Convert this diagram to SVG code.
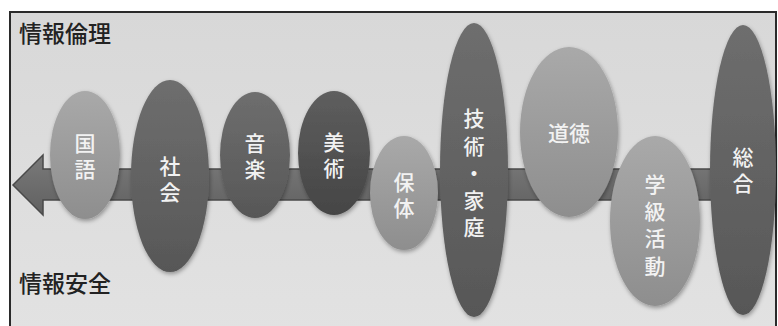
<svg xmlns="http://www.w3.org/2000/svg" width="778" height="326" viewBox="0 0 778 326">
<defs>
<linearGradient id="bg" x1="0" y1="0" x2="0" y2="1"><stop offset="0" stop-color="#d8d8d8"/><stop offset="1" stop-color="#e2e2e2"/></linearGradient>
<linearGradient id="gLight" x1="0" y1="0" x2="0" y2="1"><stop offset="0" stop-color="#a9a9a9"/><stop offset="1" stop-color="#8e8e8e"/></linearGradient>
<linearGradient id="gMid" x1="0" y1="0" x2="0" y2="1"><stop offset="0" stop-color="#6e6e6e"/><stop offset="1" stop-color="#575757"/></linearGradient>
<linearGradient id="gDark" x1="0" y1="0" x2="0" y2="1"><stop offset="0" stop-color="#5e5e5e"/><stop offset="1" stop-color="#454545"/></linearGradient>
<linearGradient id="gArrow" x1="0" y1="0" x2="0" y2="1"><stop offset="0" stop-color="#7a7a7a"/><stop offset="1" stop-color="#606060"/></linearGradient>
<filter id="sh" x="-20%" y="-20%" width="140%" height="140%"><feDropShadow dx="1" dy="2" stdDeviation="2" flood-color="#000" flood-opacity="0.35"/></filter>
</defs>
<style>
.lbl{font-family:"Noto Sans CJK JP","Noto Sans CJK SC",sans-serif;font-size:23px;font-weight:500;fill:#222}
.t{font-family:"Noto Sans CJK JP","Noto Sans CJK SC",sans-serif;font-size:21px;font-weight:500;fill:#f2f2f2;text-anchor:middle}
.v{writing-mode:vertical-rl;letter-spacing:5.5px}
.v5{letter-spacing:6.2px}
.h{dominant-baseline:central}
.e{filter:url(#sh)}
</style>
<rect x="10" y="12" width="766" height="320" fill="url(#bg)" stroke="#2a2a2a" stroke-width="2"/>
<text class="lbl" x="19" y="42">情報倫理</text>
<text class="lbl" x="19" y="292">情報安全</text>
<g id="connectors">
<polygon points="13,185 43,155 43,169 762,169 762,200 43,200 43,215" fill="url(#gArrow)" stroke="#4a4a4a" stroke-width="1.5"/>
</g>
<g id="n-kokugo"><ellipse class="e" cx="85" cy="155" rx="35" ry="64" fill="url(#gLight)"/><text class="t v" x="85" y="159">国語</text></g>
<g id="n-shakai"><ellipse class="e" cx="170" cy="176" rx="39" ry="96" fill="url(#gMid)"/><text class="t v" x="170" y="182">社会</text></g>
<g id="n-ongaku"><ellipse class="e" cx="255" cy="155" rx="35" ry="63" fill="url(#gMid)"/><text class="t v" x="255" y="159">音楽</text></g>
<g id="n-bijutsu"><ellipse class="e" cx="334" cy="153" rx="36" ry="62" fill="url(#gDark)"/><text class="t v" x="334" y="158">美術</text></g>
<g id="n-hotai"><ellipse class="e" cx="404" cy="193" rx="34" ry="57" fill="url(#gLight)"/><text class="t v" x="404" y="198">保体</text></g>
<g id="n-gika"><ellipse class="e" cx="474" cy="170" rx="34" ry="147" fill="url(#gMid)"/><text class="t v v5" x="474" y="176">技術・家庭</text></g>
<g id="n-dotoku"><ellipse class="e" cx="569" cy="132" rx="49" ry="85" fill="url(#gLight)"/><text class="t h" x="569" y="132">道徳</text></g>
<g id="n-gakkyu"><ellipse class="e" cx="655" cy="221" rx="45" ry="85" fill="url(#gLight)"/><text class="t v v5" x="655" y="228">学級活動</text></g>
<g id="n-sogo"><ellipse class="e" cx="743" cy="170" rx="33" ry="145" fill="url(#gMid)"/><text class="t v" x="743" y="173">総合</text></g>
</svg>
